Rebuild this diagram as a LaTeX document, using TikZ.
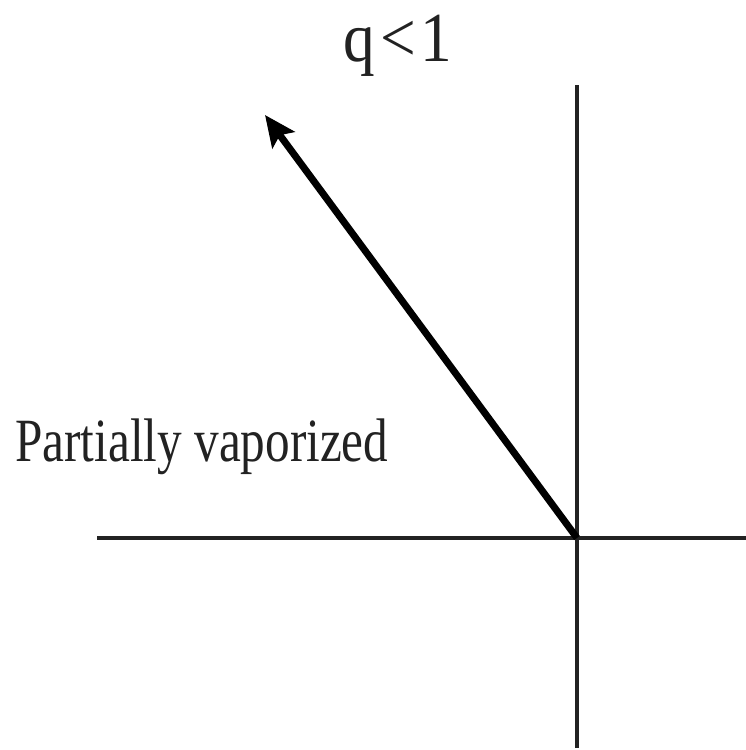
\documentclass[tikz,border=0pt]{standalone}
\usepackage{fontspec}
\setmainfont{Liberation Serif}
\usepackage{xcolor}
\usetikzlibrary{arrows.meta}
\definecolor{QAxis}{HTML}{222222}
\definecolor{QArrow}{HTML}{000000}
\definecolor{QText}{HTML}{222222}

\begin{document}
\begin{tikzpicture}[x=1cm,y=1cm]
\path[use as bounding box] (0,0) rectangle (14.92,15.00);
\coordinate (o) at (11.54,4.24);
\coordinate (ytop) at (11.54,13.30);
\coordinate (ybot) at (11.54,0.04);
\coordinate (xleft) at (1.94,4.24);
\coordinate (xright) at (14.92,4.24);
\coordinate (qtip) at (5.30,12.70);
\draw[QAxis,line width=2pt] (ybot) -- (ytop);
\draw[QAxis,line width=2pt] (xleft) -- (xright);
\draw[QArrow,line width=4pt,-{Stealth[length=0.62cm,width=0.55cm,inset=0.12cm]}] (o) -- (qtip);
\node[QText,anchor=base,inner sep=0pt] (qlabel) at (7.96,13.76) {\scalebox{0.9}[1]{\fontsize{40}{48}\selectfont q\kern0.08em<\kern0.08em1}};
\node[QText,anchor=base west,inner sep=0pt] (phase) at (0.30,5.76) {\scalebox{0.8}[1]{\fontsize{35}{42}\selectfont Partially vaporized}};
\end{tikzpicture}
\end{document}
